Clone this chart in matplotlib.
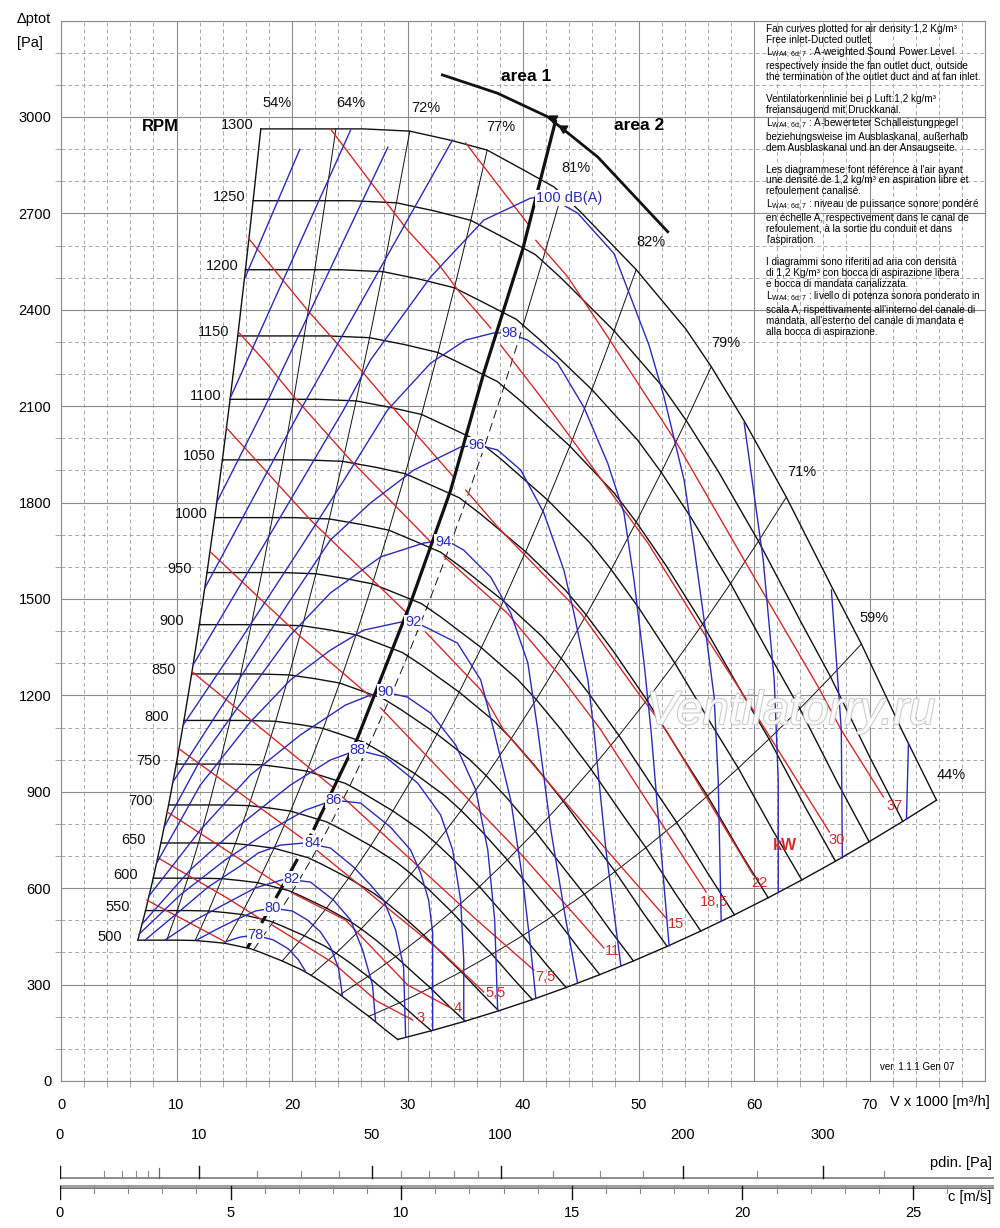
import math
import matplotlib
matplotlib.use("Agg")
import matplotlib.pyplot as plt
import matplotlib.patheffects as pe

plt.rcParams['font.family'] = ['Liberation Sans', 'DejaVu Sans']

BLACK = '#111111'
BLUE = '#2b2bbb'
RED = '#d42a2a'
GRID = '#8c8c8c'

# fan speeds drawn on the chart
RPM = [500, 550, 600, 650, 700, 750, 800, 850, 900, 950,
       1000, 1050, 1100, 1150, 1200, 1250, 1300]

# 1300 rpm curve (V x 1000 m3/h, Pa)
BASE_V = [17.3, 23.8, 26.2, 30.2, 33.7, 36.9, 39.8, 42.7, 43.35, 45.0,
          49.8, 54.1, 56.3, 59.2, 62.8, 66.7, 69.3, 72.8, 75.8]
BASE_P = [2963, 2963, 2963, 2956, 2928, 2897, 2840, 2782, 2760, 2704,
          2525, 2340, 2223, 2051, 1817, 1540, 1360, 1092, 874]

# efficiency lines: where they meet the 1300 rpm curve, and their labels
EFF_V = [17.3, 23.8, 30.2, 36.9, 43.35, 49.8, 56.3, 62.8, 69.3, 75.8]
EFF_LABELS = ['54%', '64%', '72%', '77%', '81%', '82%', '79%', '71%', '59%', '44%']
EFF_TEXT_V = [18.7, 25.1, 31.6, 38.1, 44.6, 51.1, 57.6, 64.1, 70.4, 77.1]
EFF_TEXT_P = [3043, 3043, 3027, 2970, 2840, 2612, 2296, 1896, 1440, 952]

# sound power level curves dB(A)
SOUND_78 = [(14.22, 433), (15.52, 448), (16.83, 454), (18.39, 439), (19.69, 411),
            (20.56, 377), (21.16, 342)]
SOUND_80 = [(11.77, 439), (13.36, 470), (15.09, 501), (16.83, 529), (18.30, 538),
            (20.03, 529), (21.34, 501), (22.46, 464), (23.33, 417), (24.02, 352),
            (24.37, 265)]
SOUND_82 = [(9.02, 439), (11.62, 501), (14.22, 551), (16.83, 601), (19.43, 629),
            (21.60, 619), (23.59, 563), (25.07, 501), (26.11, 408), (26.97, 299),
            (27.23, 187)]
SOUND_84 = [(7.29, 439), (9.89, 517), (12.75, 604), (15.52, 669), (17.09, 710),
            (18.99, 734), (21.16, 741), (23.33, 725), (25.33, 666), (26.80, 610),
            (27.93, 563), (28.97, 470), (29.66, 355), (29.84, 137)]
SOUND_86 = [(6.76, 457), (10.32, 579), (14.22, 688), (18.13, 781), (21.16, 843),
            (23.59, 874), (25.93, 865), (28.53, 790), (30.27, 719), (31.14, 647),
            (31.83, 563), (32.18, 461), (32.18, 159)]
SOUND_88 = [(7.03, 489), (11.19, 657), (15.52, 797), (19.86, 921), (23.33, 999),
            (25.67, 1030), (28.10, 1008), (30.88, 927), (32.87, 828), (33.91, 719),
            (34.60, 563), (34.87, 377), (34.87, 185)]
SOUND_90 = [(7.63, 576), (12.06, 781), (16.39, 952), (20.73, 1077), (24.63, 1170),
            (26.80, 1201), (27.93, 1211), (29.98, 1195), (32.00, 1145), (34.17, 1046),
            (35.91, 906), (36.95, 719), (37.55, 501), (37.81, 217)]
SOUND_92 = [(8.28, 678), (12.06, 921), (16.39, 1117), (19.86, 1248), (23.33, 1341),
            (26.19, 1403), (29.40, 1428), (30.70, 1428), (34.32, 1363), (36.34, 1248),
            (37.47, 1092), (38.94, 874), (39.98, 625), (40.68, 408), (41.11, 257)]
SOUND_94 = [(8.93, 790), (12.06, 999), (16.39, 1217), (19.86, 1388), (23.33, 1519),
            (27.67, 1631), (31.40, 1674), (33.30, 1684), (34.87, 1652), (37.21, 1568),
            (38.94, 1456), (40.42, 1301), (41.28, 1092), (42.41, 781), (43.71, 501),
            (44.73, 304)]
SOUND_96 = [(9.70, 931), (16.39, 1304), (19.86, 1497), (23.33, 1684), (26.80, 1799),
            (30.53, 1901), (34.60, 1973), (36.08, 1979), (37.79, 1964), (39.81, 1901),
            (41.80, 1768), (43.54, 1590), (44.41, 1456), (45.62, 1248), (46.14, 1092),
            (47.18, 719), (48.48, 357)]
SOUND_98 = [(10.58, 1108), (15.52, 1372), (20.73, 1659), (24.63, 1877), (28.27, 2088),
            (32.00, 2234), (35.04, 2306), (37.47, 2328), (38.68, 2328), (40.39, 2306),
            (42.99, 2234), (45.27, 2097), (47.33, 1923), (48.74, 1768), (49.61, 1559),
            (50.48, 1301), (51.08, 1092), (51.95, 719), (52.65, 421)]
SOUND_100 = [(11.44, 1295), (24.46, 2088), (26.80, 2244), (32.00, 2502), (36.60, 2679),
             (40.68, 2748), (42.24, 2751), (44.73, 2701), (47.88, 2575), (50.91, 2290),
             (52.21, 2129), (53.95, 1870), (54.81, 1662), (55.68, 1435), (56.55, 1195),
             (56.90, 937), (57.16, 497)]
# higher levels are cut by the 1300 rpm curve and by the outer limit
SOUND_102_LEFT = [(12.45, 1534), (20.73, 2088), (33.89, 2928)]
SOUND_102_RIGHT = [(59.15, 2048), (60.80, 1621), (61.75, 1248), (62.10, 937), (62.10, 586)]
SOUND_104_LEFT = [(13.50, 1802), (17.52, 2088), (28.30, 2906)]
SOUND_104_RIGHT = [(66.70, 1528), (67.56, 1092), (67.65, 694)]
SOUND_106_LEFT = [(14.66, 2126), (25.07, 2959)]
SOUND_106_RIGHT = [(73.37, 1049), (73.20, 814)]
SOUND_108_LEFT = [(15.96, 2502), (20.67, 2899)]

SOUND_LABELS = ['78', '80', '82', '84', '86', '88', '90', '92', '94', '96', '98', '100 dB(A)']
SOUND_TEXT_V = [16.83, 18.30, 19.95, 21.74, 23.59, 25.67, 28.10, 30.49, 33.09, 35.99, 38.86, 43.97]
SOUND_TEXT_P = [454, 538, 629, 741, 874, 1030, 1211, 1428, 1678, 1979, 2328, 2748]

# absorbed power lines kW: part in area 1, part in area 2
POWER_2_2 = [(7.43, 563), (14.22, 433)]
POWER_3_A1 = [(8.41, 694), (14.22, 573), (17.43, 501)]
POWER_3_A2 = [(18.30, 485), (23.59, 367), (27.33, 249), (30.44, 190)]
POWER_4_A1 = [(9.17, 838), (19.14, 605)]
POWER_4_A2 = [(20.03, 585), (24.63, 501), (30.01, 299), (33.74, 227)]
POWER_5_5_A1 = [(10.17, 1035), (20.88, 755)]
POWER_5_5_A2 = [(21.60, 734), (33.00, 400), (36.60, 277)]
POWER_7_5_A1 = [(11.34, 1274), (23.48, 916)]
POWER_7_5_A2 = [(24.37, 884), (36.00, 501), (40.94, 345)]
POWER_11_A1 = [(12.92, 1647), (20.73, 1383), (26.80, 1196)]
POWER_11_A2 = [(27.67, 1161), (39.98, 700), (47.00, 414)]
POWER_15_A1 = [(14.37, 2031), (21.60, 1746), (29.84, 1460)]
POWER_15_A2 = [(31.57, 1397), (36.34, 1217), (38.33, 1092), (45.27, 800), (52.39, 507)]
POWER_18_5_A1 = [(15.35, 2331), (17.55, 2244), (20.15, 2130), (25.07, 1932), (32.00, 1678)]
POWER_18_5_A2 = [(33.17, 1632), (38.67, 1455), (43.28, 1257), (46.75, 1092), (55.85, 588)]
POWER_22_A1 = [(16.22, 2623), (21.34, 2399), (26.19, 2203), (28.53, 2104), (33.91, 1883)]
POWER_22_A2 = [(35.04, 1839), (37.81, 1724), (45.01, 1456), (49.78, 1217), (52.38, 1092),
               (59.93, 641)]
POWER_30_A1 = [(23.33, 2963), (26.80, 2798), (30.00, 2648), (32.61, 2546), (34.35, 2462),
               (37.21, 2343)]
POWER_30_A2 = [(38.07, 2290), (41.54, 2129), (47.01, 1861), (50.82, 1674), (56.03, 1372),
               (59.76, 1164), (66.52, 775)]
POWER_37_A1 = [(35.04, 2919), (40.39, 2669)]
POWER_37_A2 = [(41.11, 2616), (43.86, 2503), (47.35, 2315), (53.25, 1989), (59.15, 1621),
               (65.57, 1226), (67.56, 1092), (71.20, 884)]

POWER_LABELS = ['3', '4', '5,5', '7,5', '11', '15', '18,5', '22', '30', '37']
POWER_TEXT_V = [31.14, 34.35, 37.64, 41.95, 47.77, 53.25, 56.58, 60.48, 67.13, 72.18]
POWER_TEXT_P = [196, 227, 274, 325, 406, 488, 558, 617, 750, 855]

# limit between area 1 and area 2 (solid upper part, broken lower part)
AREA_LINE = [(21.86, 781), (25.67, 1067), (30.27, 1488), (33.74, 1839),
             (36.60, 2203), (39.96, 2586), (42.84, 2991)]
AREA_LINE_LOW = [(16.13, 414), (18.99, 594), (21.86, 781)]
AREA_ARC = [(33.02, 3131), (37.79, 3074), (42.12, 3001), (46.46, 2876), (52.53, 2643)]

# bottom scales
PDIN_MAJOR = [0, 10, 50, 100, 200, 300]
PDIN_MINOR = [1, 2, 3, 4, 20, 30, 40, 60, 70, 80, 90, 125, 150, 175, 250, 350]
C_MAJOR = [0, 5, 10, 15, 20, 25]
C_MINOR = [1, 2, 3, 4, 6, 7, 8, 9, 11, 12, 13, 14, 16, 17, 18, 19, 21, 22, 23, 24, 26, 27]
AIR_DENSITY = 1.2

NOTES = (
    "Fan curves plotted for air density:1,2 Kg/m\u00b3\n"
    "Free inlet-Ducted outlet.\n"
    "L$_{\\mathregular{WA4;6d;7}}$ : A-weighted Sound Power Level\n"
    "respectively inside the fan outlet duct, outside\n"
    "the termination of the outlet duct and at fan inlet.\n"
    "\n"
    "Ventilatorkennlinie bei \u03c1 Luft:1,2 kg/m\u00b3\n"
    "freiansaugend mit Druckkanal.\n"
    "L$_{\\mathregular{WA4;6d;7}}$ : A-bewerteter Schalleistungpegel\n"
    "beziehungsweise im Ausblaskanal, au\u00dferhalb\n"
    "dem Ausblaskanal und an der Ansaugseite.\n"
    "\n"
    "Les diagrammese font r\u00e9f\u00e9rence \u00e0 l'air ayant\n"
    "une densit\u00e9 de 1,2 kg/m\u00b3 en aspiration libre et\n"
    "refoulement canalis\u00e9.\n"
    "L$_{\\mathregular{WA4;6d;7}}$ : niveau de puissance sonore pond\u00e9r\u00e9\n"
    "en \u00e9chelle A, respectivement dans le canal de\n"
    "refoulement, \u00e0 la sortie du conduit et dans\n"
    "l'aspiration.\n"
    "\n"
    "I diagrammi sono riferiti ad aria con densit\u00e0\n"
    "di 1,2 Kg/m\u00b3 con bocca di aspirazione libera\n"
    "e bocca di mandata canalizzata.\n"
    "L$_{\\mathregular{WA4;6d;7}}$ : livello di potenza sonora ponderato in\n"
    "scala A, rispettivamente all'interno del canale di\n"
    "mandata, all'esterno del canale di mandata e\n"
    "alla bocca di aspirazione."
)


def xy(points):
    return [p[0] for p in points], [p[1] for p in points]


def draw_grid(ax):
    ax.set_xlim(0, 80)
    ax.set_ylim(0, 3300)
    ax.set_xticks(range(0, 81, 10))
    ax.set_xticks(range(0, 81, 2), minor=True)
    ax.set_yticks(range(0, 3301, 300))
    ax.set_yticks(range(0, 3301, 100), minor=True)
    ax.set_xticklabels([str(v) for v in range(0, 71, 10)] + [''])
    ax.set_yticklabels([str(v) for v in range(0, 3001, 300)] + [''])
    ax.grid(which='major', color=GRID, lw=0.8, ls='-')
    ax.grid(which='minor', color='#a8a8a8', lw=0.7, ls=(0, (4, 3)))
    ax.tick_params(which='major', length=0, labelsize=10.5)
    ax.tick_params(axis='x', which='major', pad=12)
    ax.tick_params(axis='y', which='major', pad=7)
    ax.tick_params(which='minor', length=4, width=0.7, color='#a8a8a8')
    for s in ax.spines.values():
        s.set_color(GRID)
        s.set_linewidth(0.8)
    ax.set_axisbelow(True)


def draw_fan_curves(ax):
    # every speed follows the fan laws from the 1300 rpm curve
    for n in RPM:
        r = n / 1300.0
        v = [x * r for x in BASE_V]
        p = [y * r * r for y in BASE_P]
        ax.plot(v, p, color=BLACK, lw=1.0, zorder=3)
        ax.annotate(str(n), (v[0], p[0]), xytext=(-28.8, 2.5), textcoords='offset points',
                    ha='left', va='center', fontsize=10.5, color=BLACK)
    ax.text(8.6, 2970, 'RPM', fontsize=12, fontweight='bold', ha='center', va='center')


def draw_efficiency(ax):
    for v0, lab, tv, tp in zip(EFF_V, EFF_LABELS, EFF_TEXT_V, EFF_TEXT_P):
        i = BASE_V.index(v0)
        v = [BASE_V[i] * n / 1300.0 for n in RPM]
        p = [BASE_P[i] * (n / 1300.0) ** 2 for n in RPM]
        width = 1.0 if lab in ('54%', '44%') else 0.7
        if lab == '81%':
            # solid near the top, broken along the area limit
            ax.plot(v[-3:], p[-3:], color=BLACK, lw=width, zorder=3)
            ax.plot(v[:-2], p[:-2], color=BLACK, lw=width, ls=(0, (9, 5)), zorder=3)
        else:
            ax.plot(v, p, color=BLACK, lw=width, zorder=3)
        ax.text(tv, tp, lab, fontsize=10.5, ha='center', va='center', color=BLACK)


def draw_power(ax):
    segments = [POWER_2_2, POWER_3_A1, POWER_3_A2, POWER_4_A1, POWER_4_A2,
                POWER_5_5_A1, POWER_5_5_A2, POWER_7_5_A1, POWER_7_5_A2,
                POWER_11_A1, POWER_11_A2, POWER_15_A1, POWER_15_A2,
                POWER_18_5_A1, POWER_18_5_A2, POWER_22_A1, POWER_22_A2,
                POWER_30_A1, POWER_30_A2, POWER_37_A1, POWER_37_A2]
    for seg in segments:
        v, p = xy(seg)
        ax.plot(v, p, color=RED, lw=1.0, zorder=4)
    for lab, tv, tp in zip(POWER_LABELS, POWER_TEXT_V, POWER_TEXT_P):
        ax.text(tv, tp, lab, color=RED, fontsize=10.5, ha='center', va='center', zorder=6)
    ax.text(62.65, 734, 'kW', color=RED, fontsize=11.5, fontweight='bold',
            ha='center', va='center', zorder=6)


def draw_sound(ax):
    curves = [SOUND_78, SOUND_80, SOUND_82, SOUND_84, SOUND_86, SOUND_88, SOUND_90,
              SOUND_92, SOUND_94, SOUND_96, SOUND_98, SOUND_100,
              SOUND_102_LEFT, SOUND_102_RIGHT, SOUND_104_LEFT, SOUND_104_RIGHT,
              SOUND_106_LEFT, SOUND_106_RIGHT, SOUND_108_LEFT]
    for c in curves:
        v, p = xy(c)
        ax.plot(v, p, color=BLUE, lw=1.0, zorder=4)
    # the labels break the curves (and the area limit) where they sit
    for lab, tv, tp in zip(SOUND_LABELS, SOUND_TEXT_V, SOUND_TEXT_P):
        ax.text(tv, tp, lab, color=BLUE, fontsize=10.5, ha='center', va='center', zorder=9,
                bbox=dict(facecolor='white', edgecolor='none', pad=0.4))


def draw_area(ax):
    v, p = xy(AREA_LINE)
    ax.plot(v, p, color=BLACK, lw=2.3, zorder=8, solid_capstyle='butt')
    v, p = xy(AREA_LINE_LOW)
    ax.plot(v, p, color=BLACK, lw=2.3, ls=(0, (5, 4)), zorder=8)
    v, p = xy(AREA_ARC)
    ax.plot(v, p, color=BLACK, lw=2.0, zorder=8)
    ax.plot([42.6], [2998], marker=(3, 0, -60), ms=7, color=BLACK, zorder=8)
    ax.plot([43.5], [2965], marker=(3, 0, -60), ms=7, color=BLACK, zorder=8)
    ax.text(40.24, 3126, 'area 1', fontsize=12.5, fontweight='bold', ha='center', va='center')
    ax.text(50.07, 2975, 'area 2', fontsize=12.5, fontweight='bold', ha='center', va='center')


def draw_scales(fig):
    # pdin and c scales under the chart, y counted in pixel rows
    sx = fig.add_axes([0.060, 0.0, 0.934, 113 / 1228])
    sx.set_xlim(0, 27.37)
    sx.set_ylim(1228, 1115)
    sx.axis('off')
    sx.plot([0, 27.37], [1178, 1178], color='#7a7a7a', lw=1.2)
    for pd in PDIN_MAJOR:
        c = math.sqrt(2 * pd / AIR_DENSITY)
        sx.plot([c, c], [1166, 1178], color=BLACK, lw=1.0)
        sx.text(c, 1135, str(pd), ha='center', va='center', fontsize=10.5)
    for pd in PDIN_MINOR:
        c = math.sqrt(2 * pd / AIR_DENSITY)
        sx.plot([c, c], [1171, 1178], color='#888888', lw=0.8)
    c5 = math.sqrt(2 * 5 / AIR_DENSITY)
    sx.plot([c5, c5], [1168, 1178], color='#666666', lw=0.9)
    sx.text(27.3, 1163, 'pdin. [Pa]', ha='right', va='center', fontsize=10.5)

    sx.plot([0, 27.37], [1186, 1186], color='#a0a0a0', lw=2.2)
    sx.plot([0, 27.37], [1187.5, 1187.5], color='#555555', lw=0.6)
    for c in C_MAJOR:
        sx.plot([c, c], [1186, 1199], color=BLACK, lw=1.0)
        sx.text(c, 1213, str(c), ha='center', va='center', fontsize=10.5)
    for c in C_MINOR:
        sx.plot([c, c], [1186, 1193], color='#888888', lw=0.8)
    sx.text(27.3, 1197, 'c [m/s]', ha='right', va='center', fontsize=10.5)


def plot_chart():
    fig = plt.figure(figsize=(10, 12.28), dpi=100)
    ax = fig.add_axes([0.061, 147 / 1228, 0.924, 1060.4 / 1228])
    draw_grid(ax)
    draw_fan_curves(ax)
    draw_efficiency(ax)
    draw_power(ax)
    draw_sound(ax)
    draw_area(ax)

    ax.text(74.1, 44, 'ver. 1.1.1 Gen 07', fontsize=7, ha='center', va='center')
    wm = ax.text(63.2, 1148, 'Ventilatorry.ru', fontsize=34, fontstyle='italic',
                 color='white', alpha=0.9, ha='center', va='center', zorder=10)
    wm.set_path_effects([pe.withStroke(linewidth=1.4, foreground='#c4c4c4')])

    fig.text(0.017, 1 - 19 / 1228, '\u0394ptot', fontsize=10.5, va='center')
    fig.text(0.017, 1 - 43 / 1228, '[Pa]', fontsize=10.5, va='center')
    fig.text(0.990, 1 - 1102 / 1228, 'V x 1000 [m\u00b3/h]', fontsize=10.5,
             ha='right', va='center')
    fig.text(0.766, 1 - 24 / 1228, NOTES, fontsize=7.2, va='top', ha='left',
             linespacing=1.12)

    draw_scales(fig)
    fig.savefig('out.png', dpi=100)


if __name__ == "__main__":
    plot_chart()
